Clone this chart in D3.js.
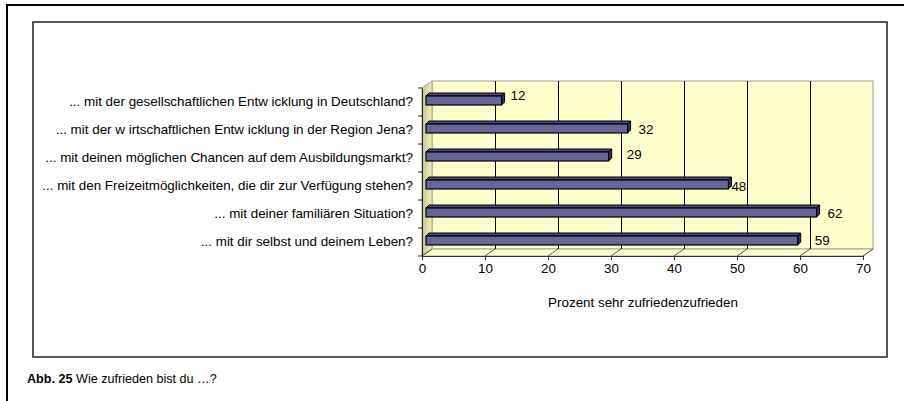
<!DOCTYPE html>
<html><head><meta charset="utf-8">
<script src="https://cdn.jsdelivr.net/npm/d3@7"></script>
<style>body{margin:0;background:#fff}svg{display:block;font-family:"Liberation Sans",Arial,sans-serif}</style>
</head><body><svg id="c" width="904" height="401"></svg>
<script>
const categories = [
  "... mit der gesellschaftlichen Entw icklung in Deutschland?",
  "... mit der w irtschaftlichen Entw icklung in der Region Jena?",
  "... mit deinen möglichen Chancen auf dem Ausbildungsmarkt?",
  "... mit den Freizeitmöglichkeiten, die dir zur Verfügung stehen?",
  "... mit deiner familiären Situation?",
  "... mit dir selbst und deinem Leben?"
];
const values = [12, 32, 29, 48, 62, 59];
const xTicks = [0, 10, 20, 30, 40, 50, 60, 70];
const axisTitle = "Prozent sehr zufriedenzufrieden";
const captionBold = "Abb. 25";
const captionText = " Wie zufrieden bist du …?";

// layout (not data)
const labelNudgeX = [6, 8, 15, 0, 8, 14];
const labelNudgeY = [-6, 0, -3, 1, 0, -1];
const FS = 13.4;

const svg = d3.select("#c");
svg.append("rect").attr("width",904).attr("height",401).attr("fill","#fff");
svg.append("rect").attr("x",7).attr("y",5).attr("width",920).attr("height",420)
  .attr("fill","none").attr("stroke","#000").attr("stroke-width",2);
svg.append("rect").attr("x",33).attr("y",22).attr("width",854).attr("height",335)
  .attr("fill","#fff").attr("stroke","#222").attr("stroke-width",1.5);

const x = d3.scaleLinear().domain([0,70]).range([422,863]);
const y = d3.scaleBand().domain(categories).range([88,256]).padding(0);
const DX = 10, DY = -7;
const y0 = y.range()[0], y1 = y.range()[1];
const x0 = x(0), x1 = x(70);

const defs = svg.append("defs");
const g1 = defs.append("linearGradient").attr("id","side").attr("x1","0").attr("x2","1").attr("y1","0").attr("y2","0");
g1.append("stop").attr("offset","0").attr("stop-color","#c9c591");
g1.append("stop").attr("offset","1").attr("stop-color","#f2eebb");

const wall = "#ffffcc";
svg.append("rect").attr("x",x0+DX).attr("y",y0+DY).attr("width",x1-x0).attr("height",y1-y0)
  .attr("fill",wall).attr("stroke","#a0a0a0").attr("stroke-width",1);
svg.append("path").attr("d",`M${x0},${y0}L${x0+DX},${y0+DY}L${x0+DX},${y1+DY}L${x0},${y1}Z`)
  .attr("fill","url(#side)").attr("stroke","#a0a0a0").attr("stroke-width",1);
svg.append("path").attr("d",`M${x0},${y1}L${x0+DX},${y1+DY}L${x1+DX},${y1+DY}L${x1},${y1}Z`)
  .attr("fill",wall).attr("stroke","#a0a0a0").attr("stroke-width",1);

svg.append("g").selectAll("line").data(xTicks.filter(t=>t>0 && t<70)).join("line")
  .attr("x1",d=>x(d)+DX+0.5).attr("x2",d=>x(d)+DX+0.5)
  .attr("y1",y0+DY).attr("y2",y1+DY).attr("stroke","#000").attr("stroke-width",1);
svg.append("g").selectAll("line").data(xTicks).join("line")
  .attr("x1",d=>x(d)).attr("y1",y1).attr("x2",d=>x(d)+DX).attr("y2",y1+DY)
  .attr("stroke","#555").attr("stroke-width",1);

const xAxis = d3.axisBottom(x).tickValues(xTicks).tickSize(4).tickPadding(3);
const gx = svg.append("g").attr("transform",`translate(0,${y1})`).call(xAxis);
gx.select(".domain").attr("stroke","#333");
gx.selectAll(".tick line").attr("stroke","#333");
gx.selectAll(".tick text").attr("font-size",FS).attr("fill","#000")
  .attr("font-family","Liberation Sans, Arial, sans-serif");

const yAxis = d3.axisLeft(y).tickSize(0).tickPadding(9);
const gy = svg.append("g").attr("transform",`translate(${x0},0)`).call(yAxis);
gy.select(".domain").attr("stroke","#222");
gy.selectAll(".tick text").attr("font-size",FS).attr("fill","#000")
  .attr("font-family","Liberation Sans, Arial, sans-serif");
svg.append("g").selectAll("line").data(d3.range(categories.length+1)).join("line")
  .attr("x1",x0-4).attr("x2",x0).attr("y1",i=>y0+i*y.bandwidth()).attr("y2",i=>y0+i*y.bandwidth())
  .attr("stroke","#222");

const bx = 4, d = 3;
const bars = svg.append("g").selectAll("g").data(values).join("g");
const top_ = (v,i)=>y(categories[i])+y.bandwidth()/2-6;
const bot_ = (v,i)=>y(categories[i])+y.bandwidth()/2+3;
bars.append("path").attr("d",(v,i)=>{
  const xa=x0+bx, xb=x(v)+bx, t=top_(v,i);
  return `M${xa},${t}L${xa+d},${t-d}L${xb+d},${t-d}L${xb},${t}Z`;
}).attr("fill","#4c4c80").attr("stroke","#000").attr("stroke-width",1);
bars.append("path").attr("d",(v,i)=>{
  const xb=x(v)+bx, t=top_(v,i), b=bot_(v,i);
  return `M${xb},${t}L${xb+d},${t-d}L${xb+d},${b-d}L${xb},${b}Z`;
}).attr("fill","#333366").attr("stroke","#000").attr("stroke-width",1);
bars.append("rect").attr("x",x0+bx).attr("y",(v,i)=>top_(v,i))
  .attr("width",v=>x(v)-x0).attr("height",(v,i)=>bot_(v,i)-top_(v,i))
  .attr("fill","#666699").attr("stroke","#000").attr("stroke-width",1.2);

svg.append("g").selectAll("text").data(values).join("text")
  .attr("x",(v,i)=>x(v)+bx+3+labelNudgeX[i])
  .attr("y",(v,i)=>y(categories[i])+y.bandwidth()/2-1+labelNudgeY[i])
  .attr("dy","0.35em").attr("font-size",FS).attr("fill","#000").text(v=>v);

svg.append("text").attr("x",643).attr("y",307).attr("text-anchor","middle")
  .attr("font-size",FS).attr("fill","#000").text(axisTitle);

const cap = svg.append("text").attr("x",27).attr("y",383).attr("font-size",12.6).attr("fill","#000");
cap.append("tspan").attr("font-weight","bold").text(captionBold);
cap.append("tspan").text(captionText);
</script></body></html>
